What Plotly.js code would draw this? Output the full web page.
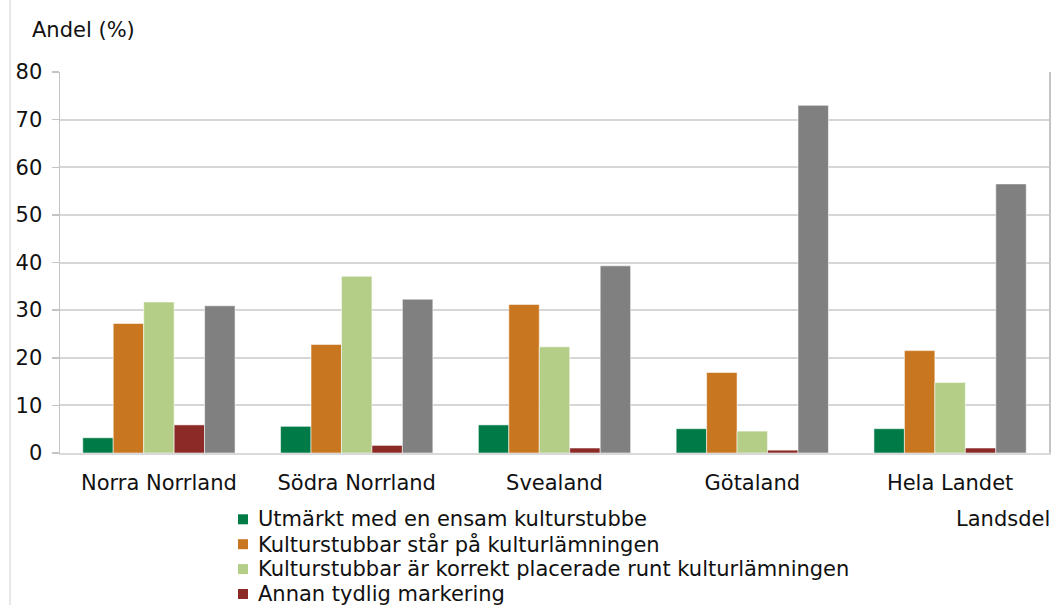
<!DOCTYPE html>
<html>
<head>
<meta charset="utf-8">
<script src="https://cdn.plot.ly/plotly-3.0.1.min.js"></script>
<style>
  body { margin: 0; background: #fff; }
  #chart { width: 1053px; height: 605px; }
</style>
</head>
<body>
<div id="chart"></div>
<script>
// regions (x categories)
var landsdelar = ['Norra Norrland', 'Södra Norrland', 'Svealand', 'Götaland', 'Hela Landet'];

// share (%) per series
var utmarktEnsam   = [3.2, 5.6, 5.9, 5.1, 5.1];
var starPa         = [27.2, 22.8, 31.2, 16.9, 21.5];
var korrektRunt    = [31.7, 37.1, 22.3, 4.6, 14.8];
var annanMarkering = [5.9, 1.6, 1.05, 0.6, 1.05];
var grey5          = [30.9, 32.3, 39.3, 73.0, 56.5];

var seriesNames = [
    'Utmärkt med en ensam kulturstubbe',
    'Kulturstubbar står på kulturlämningen',
    'Kulturstubbar är korrekt placerade runt kulturlämningen',
    'Annan tydlig markering',
    'Övrigt' // legend text for this one is cut off in the source
];
var seriesValues = [utmarktEnsam, starPa, korrektRunt, annanMarkering, grey5];
var colors = ['#007b47', '#c87720', '#b4ce88', '#8b2a27', '#808080'];

var yTicks = [0, 10, 20, 30, 40, 50, 60, 70, 80];

var font = 'DejaVu Sans, Arial, sans-serif';

var data = seriesValues.map(function(vals, i) {
    return {
        type: 'bar',
        name: seriesNames[i],
        x: landsdelar,
        y: vals,
        marker: {
            color: colors[i],
            line: { color: 'rgba(255,255,255,0.55)', width: 1 }
        },
        showlegend: false
    };
});

// px -> paper helpers for the hand-built legend (plot area 60..1049 x 72..453)
function px(x) { return (x - 60) / 989; }
function py(y) { return (453 - y) / 381; }

var annotations = [
    {
        text: 'Andel (%)', xref: 'paper', yref: 'paper',
        x: px(30), y: py(30), xanchor: 'left', yanchor: 'middle',
        showarrow: false, font: { size: 21 }
    },
    {
        text: 'Landsdel', xref: 'paper', yref: 'paper',
        x: px(1052), y: py(519), xanchor: 'right', yanchor: 'middle',
        showarrow: false, font: { size: 21 }
    }
];
var shapes = [
    // outer chart border on the left
    { type: 'line', xref: 'paper', yref: 'paper', x0: px(10), x1: px(10), y0: -1, y1: 2,
      line: { color: '#d0d0d0', width: 1 } }
];

// legend: only the first four rows are visible in the source
for (var i = 0; i < 4; i++) {
    var cy = 519.3 + 24.9 * i;
    shapes.push({
        type: 'rect', xref: 'paper', yref: 'paper',
        x0: px(238), x1: px(248), y0: py(cy + 5), y1: py(cy - 5),
        fillcolor: colors[i], line: { width: 0 }
    });
    annotations.push({
        text: seriesNames[i], xref: 'paper', yref: 'paper',
        x: px(256), y: py(cy), xanchor: 'left', yanchor: 'middle',
        showarrow: false, font: { size: 21 }
    });
}

var layout = {
    width: 1053,
    height: 605,
    margin: { l: 60, r: 4, t: 72, b: 152 },
    paper_bgcolor: '#fff',
    plot_bgcolor: '#fff',
    font: { family: font, size: 21, color: '#111' },
    barmode: 'group',
    bargap: 0.23,
    bargroupgap: 0,
    showlegend: false,
    xaxis: {
        showline: true, linecolor: '#d9d9d9', linewidth: 1.5,
        ticks: '', ticklabelstandoff: 10,
        fixedrange: true
    },
    yaxis: {
        range: [0, 80],
        tickvals: yTicks,
        showgrid: true, gridcolor: '#d6d6d6', gridwidth: 2,
        zeroline: false,
        showline: true, linecolor: '#c4c4c4', linewidth: 1.5, mirror: true,
        ticks: 'outside', ticklen: 7, tickcolor: '#c4c4c4', tickwidth: 1.5,
        ticklabelstandoff: 5,
        fixedrange: true
    },
    annotations: annotations,
    shapes: shapes
};

Plotly.newPlot('chart', data, layout, { displayModeBar: false, staticPlot: true });
</script>
</body>
</html>
